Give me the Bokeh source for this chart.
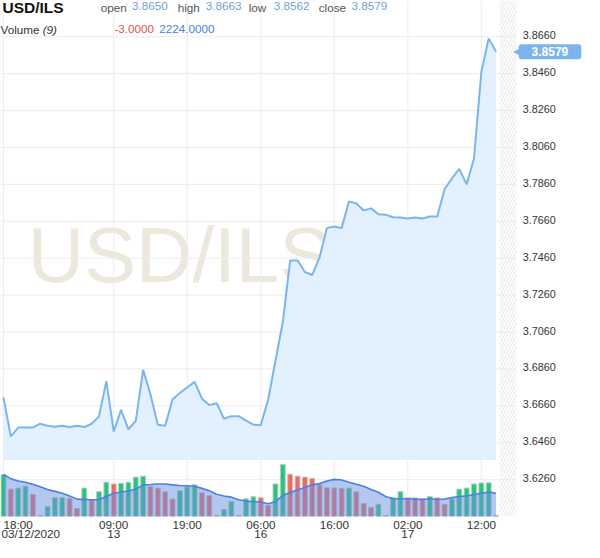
from bokeh.plotting import figure
from bokeh.models import Range1d, Label, ColumnDataSource
from bokeh.embed import file_html
from bokeh.resources import INLINE

# ---------------- data ----------------
price = [3.6707, 3.6495, 3.6542, 3.6542, 3.6542, 3.6563, 3.6552, 3.6547, 3.6552, 3.6545,
         3.6552, 3.6545, 3.6563, 3.6603, 3.6794, 3.6521, 3.6638, 3.6533, 3.6579, 3.6855,
         3.6721, 3.6558, 3.6552, 3.6695, 3.6730, 3.6759, 3.6790, 3.6699, 3.6664, 3.6674,
         3.6590, 3.6604, 3.6604, 3.6580, 3.6558, 3.6555, 3.6693, 3.6904, 3.7114, 3.7448,
         3.7448, 3.7385, 3.7369, 3.7465, 3.7623, 3.7632, 3.7623, 3.7768, 3.7756, 3.7719,
         3.7730, 3.7698, 3.7696, 3.7682, 3.7680, 3.7675, 3.7680, 3.7675, 3.7686, 3.7686,
         3.7834, 3.7892, 3.7944, 3.7860, 3.8000, 3.8469, 3.8651, 3.8579]

volume = [4040, 2630, 2730, 2910, 2100, 90, 940, 1790, 1800, 1720,
          750, 2730, 1630, 2380, 3290, 3130, 3200, 3290, 3790, 3880,
          2890, 2730, 2380, 1660, 2470, 2850, 3040, 2280, 2000, 90,
          660, 1440, 90, 1690, 1880, 1790, 1060, 3130, 5010, 4070,
          3880, 3790, 3670, 3040, 2760, 2740, 2700, 2720, 2380, 1250,
          870, 1160, 90, 1790, 2380, 1790, 1770, 1690, 1910, 1790,
          1160, 1690, 2630, 2730, 3130, 3220, 3240, 90]

vol_dir = ["U", "D", "U", "U", "D", "D", "U", "U", "U", "D",
           "D", "U", "D", "U", "U", "D", "U", "U", "U", "U",
           "D", "D", "D", "D", "U", "U", "U", "D", "D", "D",
           "U", "U", "D", "U", "U", "D", "D", "U", "U", "D",
           "D", "D", "D", "D", "D", "D", "D", "U", "D", "D",
           "D", "U", "D", "U", "U", "D", "D", "D", "U", "D",
           "D", "U", "U", "U", "U", "U", "U", "D"]

vol_ma = [4040, 3640, 3420, 3290, 3100, 2850, 2600, 2410, 2220, 1970,
          1660, 1630, 1600, 1630, 1910, 2220, 2350, 2440, 2630, 3040,
          3070, 3130, 3130, 3040, 2980, 2950, 2910, 2700, 2480, 2130,
          1970, 1850, 1600, 1470, 1410, 1380, 1220, 1440, 2000, 2290,
          2540, 2790, 3040, 3160, 3420, 3570, 3510, 3290, 3100, 2910,
          2600, 2320, 1910, 1690, 1690, 1690, 1660, 1630, 1690, 1630,
          1660, 1820, 1910, 1970, 2100, 2220, 2350, 2224]

x_tick_pos = [0, 15, 25, 35, 45, 55, 65]
x_tick_time = ["18:00", "09:00", "19:00", "06:00", "16:00", "02:00", "12:00"]
x_tick_date = ["03/12/2020", "13", "", "16", "", "17", ""]
y_ticks = [3.6260, 3.6460, 3.6660, 3.6860, 3.7060, 3.7260, 3.7460,
           3.7660, 3.7860, 3.8060, 3.8260, 3.8460, 3.8660]

symbol = "USD/ILS"
q_open, q_high, q_low, q_close = 3.8650, 3.8663, 3.8562, 3.8579
vol_change, vol_ma_last = -3.0, 2224.0
ma_period = 9

# ---------------- layout ----------------
W, H = 584, 542
SX, SY = W / 600.0, H / 558.0
FONT = "Liberation Sans"

n = len(price)
idx = list(range(n))
# whole canvas is the frame; plot zone = reference x 0..530, y 0..531
X0, X1 = -0.397, 79.03          # canvas left/right in bar units
XP_END = 69.76                  # right edge of plot zone (incl. hatched zone)
Y0, Y1 = 3.59195, 3.88563       # canvas bottom/top in price units
YP_BOT = 3.60616                # bottom of plot zone
VOL0, VOL1 = -2538, 49914       # canvas bottom/top in volume units
FILL_BOTTOM = 3.6367

up_c, dn_c = "#1fc97a", "#f4675c"
bar_colors = [up_c if d == "U" else dn_c for d in vol_dir]

p = figure(width=W, height=H, output_backend="svg", toolbar_location=None,
           x_axis_location=None, y_axis_location=None,
           x_range=Range1d(X0, X1), y_range=Range1d(Y0, Y1), min_border=0)
p.extra_y_ranges = {"vol": Range1d(VOL0, VOL1)}
p.outline_line_color = None
p.background_fill_color = "white"
p.border_fill_color = "white"
p.xgrid.visible = False
p.ygrid.visible = False

# watermark (vertical centre of the capitals at reference y=262)
p.add_layout(Label(x=28 * SX, y=H - 262 * SY, x_units="screen", y_units="screen",
                   text=symbol, text_font=FONT, text_font_size="78px",
                   text_color="#ede8dc", text_baseline="middle", level="image"))

# grid lines (limited to the plot zone)
p.segment(x0=X0, x1=XP_END, y0=y_ticks, y1=y_ticks, line_color="#ececec", line_width=1)
p.segment(x0=x_tick_pos, x1=x_tick_pos, y0=YP_BOT, y1=Y1, line_color="#ececec", line_width=1)

# price series
src = ColumnDataSource(dict(x=idx, price=price, vol=volume, ma=vol_ma, color=bar_colors))
p.varea(x="x", y1=FILL_BOTTOM, y2="price", source=src, fill_color="#e3f1fe")
p.line(x="x", y="price", source=src, line_color="#7cb5ec", line_width=2)

# volume bars + moving-average area
p.vbar(x="x", top="vol", bottom=0, width=0.66, source=src, fill_color="color",
       line_color="#c4c4c4", line_width=1, y_range_name="vol")
p.varea(x="x", y1=0, y2="ma", source=src, fill_color="#6a90e0", fill_alpha=0.5,
        y_range_name="vol")
p.line(x="x", y="ma", source=src, line_color="#4a80e6", line_width=1.6, y_range_name="vol")

# hatched "future" zone
p.quad(left=n - 0.5, right=XP_END, bottom=YP_BOT, top=Y1, fill_alpha=0,
       line_color=None, hatch_pattern="right_diagonal_line", hatch_color="#e6e6e6",
       hatch_scale=6, hatch_weight=1)


def lab(text, x, yc, size, color, style="normal", align="left"):
    """x = left (or centre) and yc = vertical text centre, in reference pixels."""
    p.add_layout(Label(x=x * SX, y=H - yc * SY, x_units="screen", y_units="screen",
                       text=text, text_font=FONT, text_font_size=f"{size * SY:.1f}px",
                       text_color=color, text_font_style=style, text_align=align,
                       text_baseline="middle"))


# header
lab(symbol, 2, 7.6, 16, "#111111", "bold")
lab("open", 103, 7.6, 12, "#555555")
lab(f"{q_open:.4f}", 135, 5.4, 12, "#6f9fd6")
lab("high", 182, 7.6, 12, "#555555")
lab(f"{q_high:.4f}", 211, 5.4, 12, "#6f9fd6")
lab("low", 255, 7.6, 12, "#555555")
lab(f"{q_low:.4f}", 280.7, 5.4, 12, "#6f9fd6")
lab("close", 327, 7.6, 12, "#555555")
lab(f"{q_close:.4f}", 360.7, 5.4, 12, "#6f9fd6")
lab("Volume", 0, 30.2, 12, "#333333")
lab(f"({ma_period})", 43.3, 30.2, 12, "#333333", "italic")
lab(f"{vol_change:.4f}", 117, 29.7, 12, "#e25555")
lab(f"{vol_ma_last:.4f}", 163, 29.7, 12, "#4682e6")

# y tick labels (right side)
for t in y_ticks:
    p.add_layout(Label(x=536.5 * SX, y=t, x_units="screen", y_units="data",
                       text=f"{t:.4f}", text_font=FONT, text_font_size="10.8px",
                       text_color="#333333", text_align="left", text_baseline="middle",
                       y_offset=1.5))

# x tick labels
for i, (pos, t, d) in enumerate(zip(x_tick_pos, x_tick_time, x_tick_date)):
    for txt, yc in ((t, 539), (d, 549)):
        if not txt:
            continue
        if i == 0:
            p.add_layout(Label(x=(3 if yc == 539 else 1) * SX, y=H - yc * SY,
                               x_units="screen", y_units="screen", text=txt,
                               text_font=FONT, text_font_size=f"{12 * SY:.1f}px",
                               text_color="#333333", text_align="left",
                               text_baseline="middle"))
        else:
            p.add_layout(Label(x=pos, y=H - yc * SY, x_units="data", y_units="screen",
                               text=txt, text_font=FONT, text_font_size=f"{12 * SY:.1f}px",
                               text_color="#333333", text_align="center",
                               text_baseline="middle"))

# current price tag with small pointer
p.add_layout(Label(x=512.5, y=q_close, x_units="screen", y_units="data",
                   text="\u25C0", text_font="DejaVu Sans", text_font_size="8px",
                   text_color="#7cb5ec", text_align="left", text_baseline="middle"))
p.add_layout(Label(x=564.5 * SX, y=q_close, x_units="screen", y_units="data",
                   text=f"{q_close:.4f}", text_font=FONT, text_font_style="bold",
                   text_font_size=f"{12.4 * SY:.1f}px", text_color="white",
                   text_align="center", text_baseline="middle",
                   background_fill_color="#7cb5ec", padding=(13, 3), border_radius=3))

open("out.html", "w").write(file_html(p, INLINE))
